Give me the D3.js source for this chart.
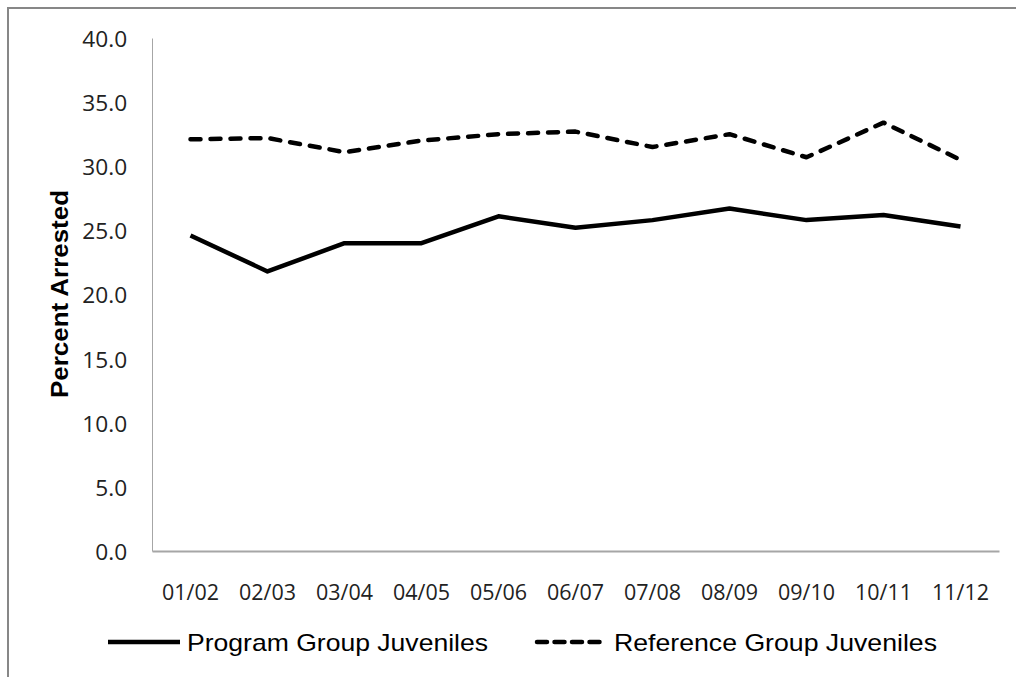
<!DOCTYPE html>
<meta charset="utf-8">
<style>
  body { margin: 0; background: #fff; }
</style>
<script src="https://d3js.org/d3.v7.min.js"></script>
<div id="chart"></div>
<script>
// data
var years = ["01/02", "02/03", "03/04", "04/05", "05/06", "06/07", "07/08", "08/09", "09/10", "10/11", "11/12"];
var programGroup = [24.6, 21.8, 24.0, 24.0, 26.1, 25.2, 25.8, 26.7, 25.8, 26.2, 25.3];
var referenceGroup = [32.1, 32.2, 31.1, 32.0, 32.5, 32.7, 31.5, 32.5, 30.7, 33.4, 30.5];
var yTicks = [0, 5, 10, 15, 20, 25, 30, 35, 40];
var seriesNames = ["Program Group Juveniles", "Reference Group Juveniles"];

var W = 1016, H = 677;
var margin = {top: 38, right: 17, bottom: 126, left: 152};

var svg = d3.select("#chart").append("svg")
  .attr("width", W)
  .attr("height", H);

svg.append("rect").attr("width", W).attr("height", H).attr("fill", "#fff");

// outer chart frame (runs off the right and bottom edges)
svg.append("rect")
  .attr("x", 8).attr("y", 8)
  .attr("width", W + 50).attr("height", H + 50)
  .attr("fill", "none")
  .attr("stroke", "#878787")
  .attr("stroke-width", 2);

var x = d3.scaleBand()
  .domain(years)
  .range([margin.left, W - margin.right]);

var y = d3.scaleLinear()
  .domain([0, 40])
  .range([H - margin.bottom, margin.top]);

// y axis
var yAxis = svg.append("g")
  .attr("transform", "translate(" + margin.left + ",0)")
  .call(d3.axisLeft(y).tickValues(yTicks).tickSize(0).tickFormat(d3.format(".1f")));
yAxis.select(".domain").attr("stroke", "#a6a6a6").attr("stroke-width", 1);
yAxis.selectAll("text")
  .attr("x", -23)
  .attr("dy", "0.4em")
  .attr("transform", "scale(1.08,1)")
  .attr("font-family", "'Open Sans', sans-serif")
  .attr("font-size", 21)
  .attr("fill", "#222");

// x axis
var xAxis = svg.append("g")
  .attr("transform", "translate(0," + (H - margin.bottom) + ")")
  .call(d3.axisBottom(x).tickSize(0).tickSizeOuter(0));
xAxis.select(".domain").attr("stroke", "#a6a6a6").attr("stroke-width", 2);
xAxis.selectAll("text")
  .attr("y", 41)
  .attr("dy", "0.38em")
  .attr("textLength", 57)
  .attr("lengthAdjust", "spacingAndGlyphs")
  .attr("font-family", "'Open Sans', sans-serif")
  .attr("font-size", 21)
  .attr("fill", "#222");

// axis title
svg.append("text")
  .attr("transform", "translate(68,294) rotate(-90)")
  .attr("text-anchor", "middle")
  .style("font-family", "'Liberation Sans', Arial, sans-serif")
  .style("font-size", "24px")
  .style("font-weight", "bold")
  .attr("textLength", 208)
  .attr("lengthAdjust", "spacingAndGlyphs")
  .text("Percent Arrested");

var line = d3.line()
  .x(function(d, i) { return x(years[i]) + x.bandwidth() / 2; })
  .y(function(d) { return y(d); });

svg.append("path")
  .datum(referenceGroup)
  .attr("d", line)
  .attr("fill", "none")
  .attr("stroke", "#000")
  .attr("stroke-width", 4.5)
  .attr("stroke-linecap", "round")
  .attr("stroke-linejoin", "round")
  .attr("stroke-dasharray", "10,10");

svg.append("path")
  .datum(programGroup)
  .attr("d", line)
  .attr("fill", "none")
  .attr("stroke", "#000")
  .attr("stroke-width", 4.5)
  .attr("stroke-linejoin", "round");

// legend
var legendY = 642;
var legend = [
  {name: seriesNames[0], x1: 108, x2: 180, tx: 187, dash: null, len: 301},
  {name: seriesNames[1], x1: 537, x2: 605, tx: 614, dash: "10,7.5", len: 323}
];
legend.forEach(function(d) {
  svg.append("line")
    .attr("x1", d.x1).attr("x2", d.x2)
    .attr("y1", legendY).attr("y2", legendY)
    .attr("stroke", "#000")
    .attr("stroke-width", 4.5)
    .attr("stroke-linecap", d.dash ? "round" : "butt")
    .attr("stroke-dasharray", d.dash);
  svg.append("text")
    .attr("x", d.tx)
    .attr("y", legendY + 9)
    .style("font-family", "'Liberation Sans', Arial, sans-serif")
    .style("font-size", "24px")
    .attr("textLength", d.len)
    .attr("lengthAdjust", "spacingAndGlyphs")
    .text(d.name);
});
</script>
